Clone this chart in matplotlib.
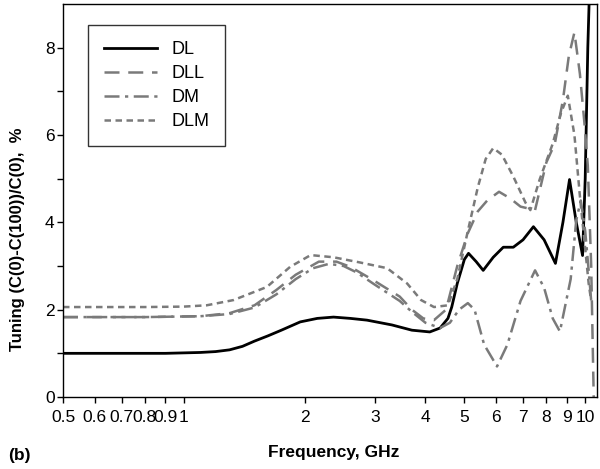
import matplotlib
matplotlib.use("Agg")
import matplotlib.pyplot as plt
from matplotlib.ticker import FixedLocator, FixedFormatter, NullLocator

plt.rcParams['font.family'] = ['Liberation Sans', 'DejaVu Sans']

# Data (frequency in GHz, tuning in %)
f_dl = [0.5, 0.7, 0.9, 1.1, 1.2, 1.3, 1.4, 1.5, 1.62, 1.75, 1.95, 2.15, 2.36, 2.6, 2.86,
        3.3, 3.7, 4.1, 4.35, 4.55, 4.65, 4.8, 5.0, 5.12, 5.35, 5.57, 5.9, 6.25, 6.62,
        7.0, 7.43, 7.9, 8.43, 8.8, 9.14, 9.5, 9.85, 10.0, 10.15, 10.3]
dl = [1.0, 1.0, 1.0, 1.02, 1.04, 1.08, 1.16, 1.28, 1.4, 1.53, 1.72, 1.8, 1.83, 1.8, 1.76,
      1.65, 1.53, 1.49, 1.58, 1.8, 2.06, 2.6, 3.15, 3.29, 3.1, 2.9, 3.2, 3.43, 3.43,
      3.6, 3.9, 3.6, 3.06, 4.0, 4.98, 4.0, 3.24, 5.0, 8.0, 10.0]

f_dll = [0.5, 0.8, 1.1, 1.3, 1.5, 1.7, 1.9, 2.17, 2.4, 2.6, 2.96, 3.45, 3.7, 3.95,
         4.2, 4.5, 4.8, 5.1, 5.4, 5.7, 6.1, 6.5, 6.9, 7.5, 8.0, 8.4, 8.8, 9.1,
         9.4, 9.7, 9.95, 10.15, 10.35, 10.5]
dll = [1.83, 1.83, 1.85, 1.92, 2.1, 2.45, 2.8, 3.1, 3.1, 2.98, 2.68, 2.3, 2.0, 1.8,
       1.76, 2.0, 3.0, 3.75, 4.25, 4.5, 4.7, 4.55, 4.36, 4.28, 5.37, 5.8, 6.8, 7.8,
       8.35, 7.4, 6.3, 5.3, 3.0, 0.0]

f_dm = [0.5, 0.8, 1.1, 1.3, 1.5, 1.7, 1.9, 2.1, 2.3, 2.5, 2.7, 2.96, 3.45, 3.7, 4.0,
        4.35, 4.6, 4.85, 5.1, 5.3, 5.6, 6.03, 6.4, 6.9, 7.5, 7.9, 8.3, 8.65, 9.2,
        9.5, 9.75, 10.0, 10.2, 10.35]
dm = [1.83, 1.83, 1.85, 1.9, 2.05, 2.35, 2.7, 2.95, 3.05, 3.0, 2.85, 2.6, 2.2, 1.95, 1.7,
      1.58, 1.7, 2.0, 2.15, 2.0, 1.2, 0.7, 1.2, 2.2, 2.9, 2.5, 1.8, 1.5, 2.7,
      4.05, 4.5, 3.8, 2.9, 2.2]

f_dlm = [0.5, 0.8, 1.0, 1.14, 1.33, 1.61, 1.84, 2.07, 2.36, 2.75, 3.21, 3.6, 3.9, 4.2,
         4.55, 4.8, 5.1, 5.4, 5.65, 5.9, 6.2, 6.62, 7.1, 7.3, 7.7, 8.3, 8.7, 9.05,
         9.4, 9.7, 10.0, 10.2, 10.35]
dlm = [2.06, 2.06, 2.07, 2.1, 2.22, 2.52, 2.98, 3.25, 3.2, 3.08, 2.95, 2.6, 2.22, 2.06,
       2.1, 2.7, 3.8, 4.8, 5.45, 5.7, 5.55, 5.05, 4.45, 4.28, 4.98, 5.8, 6.5, 6.9,
       6.0, 4.6, 3.4, 2.6, 2.2]

xticks = [0.5, 0.6, 0.7, 0.8, 0.9, 1, 2, 3, 4, 5, 6, 7, 8, 9, 10]
xticklabels = ['0.5', '0.6', '0.7', '0.8', '0.9', '1', '2', '3', '4', '5', '6', '7', '8', '9', '10']

fig = plt.figure(figsize=(6.0, 4.69), dpi=100)
ax = fig.add_axes([63 / 600, 1 - 397 / 469, 534 / 600, 393 / 469])

gray = '#7a7a7a'
lw = 1.8
ax.plot(f_dl, dl, color='black', lw=2.0, label='DL')
ax.plot(f_dll, dll, color=gray, lw=lw, dashes=(6, 3.5), label='DLL')
ax.plot(f_dm, dm, color=gray, lw=lw, dashes=(6, 2.2, 1.3, 2.2), label='DM')
ax.plot(f_dlm, dlm, color=gray, lw=lw, dashes=(2.6, 1.8), label='DLM')

ax.set_xscale('log')
ax.set_xlim(0.5, 10.7)
ax.set_ylim(0, 9.0)
ax.xaxis.set_major_locator(FixedLocator(xticks))
ax.xaxis.set_major_formatter(FixedFormatter(xticklabels))
ax.xaxis.set_minor_locator(NullLocator())
ax.set_yticks([0, 2, 4, 6, 8])
ax.set_yticks([1, 3, 5, 7], minor=True)

ax.tick_params(axis='both', which='both', direction='out', length=4, width=1,
               labelsize=12.5, top=False, right=False)
ax.tick_params(axis='x', pad=5)
ax.tick_params(axis='y', pad=2)
for s in ax.spines.values():
    s.set_linewidth(1.0)

leg = ax.legend(loc='upper left', bbox_to_anchor=(25 / 534, 1 - 21 / 393),
                borderaxespad=0, fontsize=13, frameon=True, fancybox=False,
                edgecolor='black', handlelength=2.9, handletextpad=0.8,
                borderpad=0.9, labelspacing=0.38)
leg.get_frame().set_linewidth(1.0)

fig.text(18 / 600, 1 - 239 / 469, 'Tuning (C(0)-C(100))/C(0),  %', rotation=90,
         ha='center', va='center', fontsize=12, fontweight='bold')
fig.text(334 / 600, 1 - 452 / 469, 'Frequency, GHz', ha='center', va='center',
         fontsize=12.5, fontweight='bold')
fig.text(8 / 600, 1 - 455 / 469, '(b)', ha='left', va='center',
         fontsize=12.5, fontweight='bold')

fig.savefig('out.png', dpi=100)
